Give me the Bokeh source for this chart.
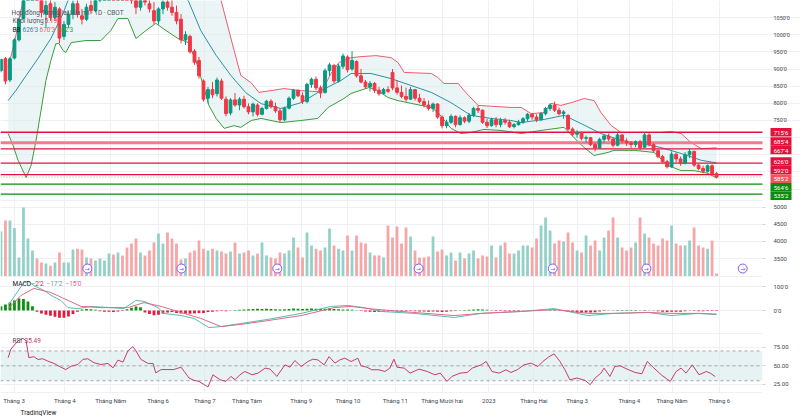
from bokeh.plotting import figure
from bokeh.models import ColumnDataSource, FixedTicker, Range1d, Span, Label, Title, BoxAnnotation
from bokeh.layouts import column
from bokeh.embed import file_html
from bokeh.resources import INLINE
from bokeh.core.properties import value

# one bar = 2 trading days, late Feb 2022 -> early Jun 2023 (prices in cents)
OPEN = [895, 930, 868, 932, 985, 1048, 1125, 1240, 1285, 1190,
        1060, 1090, 1050, 1075, 995, 1030, 1060, 1090, 1055, 1045,
        1085, 1070, 1110, 1140, 1175, 1220, 1170, 1250, 1200, 1160,
        1105, 1080, 1110, 1090, 1070, 1040, 1075, 1095, 1080, 1065,
        1045, 985, 995, 952, 925, 865, 815, 840, 828, 865,
        812, 772, 810, 795, 812, 790, 775, 795, 768, 785,
        806, 790, 778, 752, 786, 815, 838, 822, 805, 855,
        870, 845, 832, 895, 910, 865, 908, 935, 900, 922,
        880, 862, 848, 858, 838, 828, 840, 890, 845, 832,
        820, 812, 840, 815, 805, 795, 785, 798, 760, 735,
        745, 762, 738, 758, 748, 765, 785, 780, 745, 735,
        752, 738, 750, 745, 732, 738, 745, 755, 768, 760,
        752, 770, 785, 795, 780, 770, 765, 725, 710, 715,
        698, 700, 680, 670, 695, 705, 696, 678, 708, 690,
        685, 680, 688, 672, 708, 680, 662, 645, 630, 615,
        652, 638, 625, 650, 660, 620, 610, 602, 618, 595]
HIGH = [930, 935, 935, 990, 1050, 1130, 1250, 1425, 1330, 1200,
        1100, 1110, 1095, 1080, 1040, 1070, 1100, 1110, 1075, 1090,
        1110, 1120, 1150, 1190, 1230, 1260, 1285, 1270, 1215, 1180,
        1120, 1120, 1140, 1110, 1095, 1080, 1110, 1120, 1105, 1085,
        1060, 1010, 1000, 958, 935, 870, 848, 862, 875, 872,
        820, 815, 830, 818, 822, 800, 802, 800, 790, 810,
        812, 802, 785, 790, 820, 842, 840, 832, 860, 875,
        878, 852, 902, 918, 915, 915, 945, 940, 952, 925,
        900, 868, 865, 862, 848, 845, 850, 900, 868, 852,
        846, 848, 842, 828, 815, 808, 802, 800, 765, 752,
        768, 765, 765, 762, 772, 790, 794, 782, 755, 758,
        760, 758, 757, 752, 742, 752, 760, 772, 772, 768,
        775, 790, 800, 805, 788, 780, 768, 730, 722, 718,
        706, 702, 686, 700, 708, 712, 700, 715, 710, 698,
        690, 692, 694, 715, 712, 685, 665, 650, 635, 660,
        656, 645, 658, 668, 662, 625, 618, 622, 622, 600]
LOW = [890, 855, 862, 928, 980, 1045, 1120, 1230, 1180, 1050,
       1020, 1040, 1040, 975, 985, 1020, 1045, 1050, 1030, 1040,
       1060, 1065, 1095, 1120, 1160, 1150, 1165, 1180, 1140, 1090,
       1060, 1070, 1085, 1065, 1030, 1030, 1060, 1070, 1055, 1030,
       975, 970, 945, 912, 872, 805, 800, 815, 820, 810,
       762, 765, 790, 780, 785, 768, 762, 762, 765, 782,
       785, 772, 744, 748, 782, 810, 818, 798, 800, 845,
       838, 815, 828, 880, 858, 860, 900, 890, 895, 875,
       858, 842, 835, 830, 822, 825, 830, 838, 825, 815,
       805, 810, 808, 800, 788, 779, 775, 755, 727, 727,
       740, 730, 735, 742, 742, 760, 772, 740, 728, 732,
       730, 730, 738, 728, 727, 735, 740, 748, 752, 745,
       750, 765, 778, 775, 765, 755, 720, 705, 700, 692,
       685, 675, 660, 668, 685, 690, 672, 675, 683, 676,
       670, 672, 663, 670, 675, 658, 640, 625, 610, 612,
       628, 618, 622, 640, 615, 605, 596, 598, 590, 581]
CLOSE = [928, 865, 930, 985, 1045, 1120, 1230, 1290, 1200, 1065,
         1085, 1050, 1080, 990, 1030, 1060, 1090, 1060, 1045, 1080,
         1070, 1110, 1140, 1175, 1220, 1170, 1250, 1200, 1160, 1110,
         1080, 1110, 1095, 1075, 1040, 1075, 1095, 1080, 1065, 1040,
         985, 1000, 950, 920, 880, 812, 840, 825, 868, 815,
         770, 810, 795, 812, 790, 775, 798, 768, 785, 806,
         790, 778, 752, 786, 815, 838, 822, 805, 855, 870,
         845, 830, 895, 912, 865, 908, 938, 898, 925, 880,
         862, 848, 858, 838, 828, 840, 835, 845, 832, 820,
         812, 840, 815, 805, 795, 785, 798, 760, 735, 745,
         762, 738, 758, 748, 765, 785, 780, 745, 735, 752,
         738, 750, 745, 732, 738, 745, 755, 768, 760, 752,
         770, 785, 795, 780, 770, 775, 725, 710, 715, 698,
         700, 680, 670, 695, 705, 696, 678, 708, 690, 685,
         680, 688, 670, 708, 680, 662, 645, 630, 615, 652,
         638, 625, 650, 660, 620, 610, 602, 618, 595, 585.25]
VOLUME = [4300, 4620, 4620, 4400, 3530, 5000, 4090, 3735, 3500, 3380,
          3350, 3290, 3380, 3680, 3380, 3380, 3765, 3790, 3765, 3530,
          3500, 3440, 3500, 3440, 3650, 3620, 3680, 3590, 3820, 3940,
          4090, 3680, 3590, 3735, 3970, 4235, 3940, 4265, 4090, 3940,
          3470, 3500, 3680, 3735, 4030, 3790, 3735, 3790, 3735, 3705,
          3650, 3705, 3970, 3650, 3680, 3735, 3590, 3650, 3970, 3590,
          3530, 3500, 3680, 3650, 3735, 4120, 3820, 3530, 4265, 3880,
          3790, 3735, 3820, 4380, 3880, 3790, 3735, 4175, 3735, 4175,
          3970, 3940, 3680, 3590, 3590, 3530, 4470, 4120, 4440, 3940,
          4410, 4150, 3735, 3530, 3530, 3560, 4150, 3705, 3765, 3590,
          3680, 3440, 3680, 3500, 3650, 3735, 3500, 3590, 3560, 3880,
          3530, 3880, 3970, 3650, 3650, 3735, 3880, 3880, 3820, 4090,
          4470, 4705, 4325, 3940, 4030, 4000, 4265, 3970, 3735, 3680,
          4175, 3880, 4030, 3735, 4120, 4325, 4705, 4120, 3820, 3735,
          3820, 3970, 4705, 4235, 4120, 3940, 3880, 4090, 4030, 4470,
          3940, 3880, 3880, 4030, 4410, 3880, 3820, 3790, 4030, 3060]
MACD_HIST = [18, 25, 33, 42, 50, 48, 38, 18, -5, -12,
             -18, -22, -26, -30, -30, -25, -15, -5, 4, 6,
             5, 3, -3, -5, -5, -6, -4, -2, 5, 12,
             17, 14, -8, -15, -20, -18, -12, -8, -6, -10,
             -12, -14, -14, -12, -10, -10, -6, -5, -3, -2,
             -3, -1, 2, 3, 4, 5, 6, 7, 6, 7,
             6, 5, 4, 5, 6, 8, 7, 6, 7, 8,
             7, 6, 7, 8, 6, 5, 4, 4, 3, 1,
             -2, -4, -5, -6, -6, -5, -4, -3, -4, -4,
             -3, -2, -3, -4, -4, -5, -4, -5, -6, -5,
             -3, -2, 1, 2, 3, 4, 5, 4, 3, -1,
             -2, -2, -3, -3, -2, -2, -1, -1, -1, -1,
             -1, 1, 2, 2, 1, 0.5, -4, -6, -8, -9,
             -8, -8, -7, -4, -2, 1, 1, 2, 2, 2,
             2, 2, 1, 2, 1, -1, -3, -5, -6, -5,
             -5, -5, -3, -1, -2, -3, -3, -2, -2, -2.2]

# indicator lines (x in bar units)
MACD_POS = [1.6, 5.1, 6.2, 7.3, 9.6, 11.1, 13.3, 14.9, 17.1, 20, 24.4, 27.3, 30, 31.8, 34.9,
            36.2, 40, 42.9, 46.2, 48.9, 53.3, 59.3, 66.7, 73.3, 77.1, 80.7, 84.4, 91.8, 100.7,
            106.7, 115.6, 122.9, 126, 130.4, 136.2, 143.8, 148.9, 154.9, 159]
MACD_VAL = [21, 117, 121, 104, 83, 63, 42, 12, 8, 17, 12, 8, 42, 38, 12,
            -12, -21, -33, -71, -67, -54, -37, -12, 17, 21, 12, -4, -12, -29,
            -12, -4, 8, -4, -21, -12, -8, -21, -12, -17.2]
SIGNAL_POS = [1.6, 4.4, 7.3, 11.1, 14.9, 17.8, 22.2, 28.2, 31.8, 35.6, 40, 44.4, 48.9, 53.3, 59.3,
              66.7, 74, 77.8, 81.6, 88.9, 100.7, 106.7, 115.6, 122.9, 130.4, 136.2, 143.8, 148.9,
              154.9, 159]
SIGNAL_VAL = [8, 62, 92, 75, 42, 17, 12, 12, 33, 17, -8, -33, -67, -58, -42,
              -21, 12, 17, 8, -4, -21, -12, -4, 4, -12, -12, -8, -12, -12, -15]

BB_UPPER_POS = [1.6, 3.1, 4.4, 5.3, 7.8, 13.3, 22.2, 31.1, 40, 45.6, 48.9, 51.8, 53.3, 55.6, 57.3,
                60, 62.9, 66.7, 70.4, 72.2, 73.3, 75.1, 77.8, 80, 83.3, 86.7, 88.2, 89.6, 95.6,
                97.1, 98.4, 101.6, 102.9, 106, 113.3, 115.6, 117.8, 120.7, 122.2, 124.4, 126.7,
                129.6, 131.8, 133.3, 135.6, 137.8, 146.7, 148.9, 151.1, 153.3, 155.6, 159]
BB_UPPER = [904, 983, 1070, 1110, 1250, 1340, 1330, 1290, 1220, 1150, 1100, 954, 881, 860, 832,
            837, 843, 837, 834, 858, 887, 919, 933, 936, 939, 933, 919, 890, 887,
            875, 858, 858, 837, 794, 788, 788, 770, 773, 800, 794, 802,
            814, 808, 773, 735, 715, 715, 718, 712, 686, 668, 670.4]
BB_MID_POS = [1.6, 3.3, 5.6, 8.2, 11.1, 13.8, 14.9, 17.8, 24.4, 31.1, 36.7, 41.6, 44.4, 47.8, 51.1,
              54.4, 57.8, 62.2, 66.7, 71.1, 75.6, 77.8, 82.2, 86.7, 91.1, 95.6, 100, 104.4, 108.9,
              113.3, 115.6, 120.7, 125.1, 128.9, 133.3, 137.8, 142.2, 146.7, 151.1, 155.6, 159]
BB_MID = [808, 837, 881, 930, 989, 1062, 1100, 1125, 1140, 1150, 1130, 1100, 1012, 940, 881,
          831, 799, 785, 802, 837, 867, 887, 887, 872, 852, 832, 802, 765, 756,
          750, 744, 753, 765, 741, 712, 692, 683, 671, 654, 634, 626.4]
BB_LOWER_POS = [1.6, 2.7, 3.8, 5.6, 6.7, 7.8, 8.9, 10, 11.1, 12.2, 12.9, 13.8, 14.4, 15.6, 18.9,
                22.2, 24.4, 26, 28.2, 30, 32.2, 34.4, 36.7, 39.3, 41.6, 43.3, 45.1, 46.2, 47.8,
                49.6, 51.8, 53.3, 55.6, 57.8, 62.2, 66.7, 70.4, 72.7, 76.2, 77.8, 81.8, 83.8, 86,
                88.2, 91.1, 95.6, 97.1, 100, 102.2, 104.4, 107.3, 111.1, 115.6, 120, 125.1, 127.3,
                129.6, 131.8, 134.9, 136.2, 140.7, 145.1, 148.2, 151.1, 154, 157.1, 159]
BB_LOWER = [712, 677, 634, 584, 619, 692, 779, 867, 925, 974, 974, 954, 948, 977, 983,
            983, 1012, 1047, 1047, 989, 1012, 1033, 1012, 989, 977, 925, 846, 794, 756,
            727, 735, 730, 750, 756, 744, 750, 756, 788, 814, 829, 846, 837, 817,
            808, 800, 788, 773, 727, 712, 715, 724, 721, 712, 721, 730, 700,
            671, 648, 657, 663, 663, 657, 619, 604, 604, 596, 582.4]

RSI_POS = [1.6, 2.2, 3.8, 4.9, 5.6, 6.2, 7.3, 8.2, 9.3, 10.4,
           11.8, 12.9, 14.4, 15.6, 17.1, 18.2, 19.3, 20.7, 22.2, 23.8,
           24.9, 26, 27.1, 28.2, 29.3, 30, 31.1, 32.7, 33.8, 34.4,
           35.6, 37.1, 38.4, 40, 40.7, 41.8, 42.9, 44, 46, 47.1,
           48.7, 50, 51.1, 52, 53.1, 54.2, 55.8, 57.1, 58.7, 59.8,
           61.3, 63.1, 64.2, 65.3, 66.7, 68.2, 69.3, 70.4, 71.8, 72.9,
           74.2, 75.3, 76.4, 77.8, 79.3, 80, 81.3, 82.4, 84, 85.3,
           86.4, 87.3, 88, 89.6, 90.9, 92.9, 94.7, 96.4, 97.6, 99.1,
           100.2, 102, 103.6, 104.7, 106.7, 107.8, 109.1, 110.7, 112.2, 113.3,
           114.7, 116.2, 117.8, 119.3, 120.4, 121.8, 122.9, 124.2, 125.3, 126.4,
           128, 129.8, 130.9, 132, 133.3, 134, 135.3, 136.4, 137.6, 139.1,
           140.9, 142.4, 143.6, 145.1, 146.7, 148.7, 150, 151.1, 152.2, 153.6,
           155.1, 156.7, 157.6, 158.7]
RSI_VAL = [60.9, 72.3, 83.6, 86.8, 83.6, 60.9, 62.3, 58.6, 59.5, 56.4,
           53.2, 49.5, 45, 49.5, 51.8, 58.6, 59.5, 54.1, 51.8, 53.2,
           47.3, 57.7, 55, 70, 75.9, 70, 58.6, 53.2, 53.2, 40.5,
           45, 45, 45, 48.2, 42.7, 33.6, 30.5, 29.1, 21.6, 38,
           31.3, 29.1, 35.8, 31.3, 38, 42.4, 38, 40.2, 46.9, 45.6,
           35.8, 51.3, 48.2, 57.1, 49.1, 55.8, 58.9, 58, 51.3, 62.4,
           53.6, 58, 60.2, 55.8, 60.2, 50, 48.2, 44.7, 44.7, 42.4,
           46.9, 58.9, 48.2, 46.9, 40.2, 45.6, 42.4, 38, 40.2, 29.1,
           35.8, 40.2, 41.1, 46.9, 51.3, 55.8, 42.4, 40.2, 44.7, 41.1,
           44.7, 51.3, 53.6, 49.1, 55.8, 62.4, 66, 55.8, 44.7, 31.3,
           33.6, 30.4, 24.7, 33.6, 40.2, 46.9, 35.8, 49.1, 50, 45.6,
           41.1, 39.3, 55.8, 46.9, 38, 29.1, 42.4, 46.9, 40.2, 51.3,
           38, 42.4, 40.2, 35.49]

RES_LEVELS = [715.75, 685.5, 667.5, 626.0, 592.0]
SUP_LEVELS = [564.75, 535.25]
MAJOR_LEVEL = 685.5
EVENTS = [19.2, 40.1, 61.4, 92.8, 122.6, 143.4, 164.8]

MONTH_POS = [2.9, 14.2, 24.4, 34.9, 45.3, 54.7, 66.7, 77.1, 87.6, 98, 108.4, 118.4, 128,
             139.6, 149.1, 159.6]
MONTH_LABELS = ["Tháng 3", "Tháng 4", "Tháng Năm", "Tháng 6", "Tháng 7", "Tháng Tám",
                "Tháng 9", "Tháng 10", "Tháng 11", "Tháng Mười hai", "2023", "Tháng Hai",
                "Tháng 3", "Tháng 4", "Tháng Năm", "Tháng 6"]
PRICE_TICKS = list(range(550, 1051, 50))
VOL_TICKS = [3500, 4000, 4500, 5000]
MACD_TICKS = [0, 100]
RSI_TICKS = [25, 50, 75]

TITLE = "Hợp đồng Tương lai Lúa mì · 1D · CBOT"
VOL_LAST = "5.19K"

FONT = "Roboto"
UP, DOWN = "#089981", "#f23645"
LEVEL_RED, LEVEL_GREEN = "#e3123c", "#0b8c0b"
SEP = "#e0e3eb"
FW = 762            # chart area width (px)
STRIP = 38          # price-scale strip that the main pane keeps inside its frame
XR = Range1d(-0.1, 169.2)
UPP = (XR.end - XR.start) / FW
XM = Range1d(XR.start, XR.start + (FW + STRIP) * UPP)


def eighths(v):
    sign = "−" if v < 0 else ""
    v = abs(v)
    w = int(v)
    e = int(round((v - w) * 8))
    if e == 8:
        w, e = w + 1, 0
    return f"{sign}{w}'{e}"


def pane(h, lo, hi, ticks, labels, xaxis=False, fw=FW, xr=XR, border_right=40):
    p = figure(frame_width=fw, frame_height=h, x_range=xr, y_range=Range1d(lo, hi),
               output_backend="svg", toolbar_location=None, tools="",
               y_axis_location="right", x_axis_location="below" if xaxis else None,
               min_border=0, min_border_right=border_right)
    p.outline_line_color = None
    ax = p.yaxis[0]
    ax.ticker = FixedTicker(ticks=ticks)
    ax.major_label_overrides = dict(zip(ticks, labels))
    ax.axis_line_color = None
    ax.major_tick_in = 0
    ax.major_tick_out = 3
    ax.major_tick_line_color = "#d1d4dc"
    ax.minor_tick_line_color = None
    ax.major_label_text_font = FONT
    ax.major_label_text_font_size = "6px"
    ax.major_label_text_color = "#42454f"
    ax.major_label_standoff = 8
    p.xgrid.ticker = FixedTicker(ticks=MONTH_POS)
    p.grid.grid_line_color = "#eef0f5"
    return p


def legend(p, x, y, text, color, size="6.5px"):
    p.add_layout(Label(x=x, y=y, x_units="screen", y_units="screen", text=text,
                       text_color=color, text_font=FONT, text_font_size=size,
                       text_baseline="middle"))


def top_rule(p):
    p.add_layout(Span(location=p.y_range.end, dimension="width", line_color=SEP, line_width=1))


up = [c >= o for o, c in zip(OPEN, CLOSE)]
src = ColumnDataSource(dict(
    x=list(range(len(CLOSE))), h=HIGH, l=LOW,
    top=[max(o, c) for o, c in zip(OPEN, CLOSE)],
    bot=[min(o, c) for o, c in zip(OPEN, CLOSE)],
    col=[UP if u else DOWN for u in up],
    vol=VOLUME, vcol=["#93d1c8" if u else "#f7a6a8" for u in up],
    hist=MACD_HIST, hcol=["#0f8f0f" if v >= 0 else "#e8173d" for v in MACD_HIST],
))

# ---- price pane (its frame also covers the price-scale strip) ----
main_h = 200
main = pane(main_h, 516.9, 1099.6, PRICE_TICKS,
            [f"{t}'0" if t >= 750 else "" for t in PRICE_TICKS],
            fw=FW + STRIP, xr=XM, border_right=2)
main.yaxis.major_tick_out = 0
main.yaxis.major_label_standoff = -(STRIP - 11)
main.yaxis.major_label_text_font_size = "5.5px"

main.patch(BB_UPPER_POS + BB_LOWER_POS[::-1], BB_UPPER + BB_LOWER[::-1],
           fill_color="#dcecec", fill_alpha=0.55, line_color=None)
main.line(BB_UPPER_POS, BB_UPPER, line_color="#ef5b6e", line_width=1)
main.line(BB_MID_POS, BB_MID, line_color="#2a8fa6", line_width=1)
main.line(BB_LOWER_POS, BB_LOWER, line_color="#3c9a3c", line_width=1)

edge = XR.end
lv_all = RES_LEVELS + SUP_LEVELS
main.segment(x0=[XR.start] * len(lv_all), x1=[edge] * len(lv_all), y0=lv_all, y1=lv_all,
             line_color=[("#ee7d90" if lv == MAJOR_LEVEL else LEVEL_RED) for lv in RES_LEVELS]
             + [LEVEL_GREEN] * len(SUP_LEVELS),
             line_width=[(3 if lv == MAJOR_LEVEL else 1.3) for lv in RES_LEVELS]
             + [1.3] * len(SUP_LEVELS))
main.segment(x0=[XR.start], x1=[edge], y0=[CLOSE[-1]], y1=[CLOSE[-1]],
             line_color="#f08f99", line_width=1, line_dash="1 2")

main.segment(x0="x", y0="h", x1="x", y1="l", color="col", line_width=1, source=src)
main.vbar(x="x", top="top", bottom="bot", width=0.62, fill_color="col", line_color="col", source=src)

# price-scale tags, pushed apart so they do not overlap
tags = [(lv, LEVEL_RED) for lv in RES_LEVELS] + [(CLOSE[-1], "#f0545f")] + \
       [(lv, LEVEL_GREEN) for lv in SUP_LEVELS]
tags.sort(key=lambda t: -t[0])
pos = [t[0] for t in tags]
gap = 25.0
for _ in range(400):
    for k in range(len(pos) - 1):
        d = pos[k] - pos[k + 1]
        if d < gap:
            m = (gap - d) / 2
            pos[k] += m
            pos[k + 1] -= m
tag_x = [edge + 18.5 * UPP] * len(tags)
main.rect(x=tag_x, y=pos, width=21, height=8.6, width_units="screen", height_units="screen",
          fill_color=[t[1] for t in tags], line_color=None)
main.text(x=tag_x, y=pos, text=[eighths(t[0]) for t in tags], text_color="white",
          text_font=value(FONT), text_font_size="6px", text_align="center",
          text_baseline="middle")

legend(main, 11, main_h - 12, TITLE, "#50535e")
legend(main, 12, main_h - 20, "Khối lượng", "#50535e")
legend(main, 44, main_h - 20, VOL_LAST, "#f23645")
legend(main, 12, main_h - 29, "BB", "#131722")
legend(main, 22, main_h - 29, eighths(BB_MID[-1]), "#2a8fa6")
legend(main, 39, main_h - 29, eighths(BB_UPPER[-1]), "#ef5b6e")
legend(main, 57, main_h - 29, eighths(BB_LOWER[-1]), "#3c9a3c")

# ---- volume pane ----
vol_lo, vol_hi = 2971, 5205
vol = pane(76, vol_lo, vol_hi, VOL_TICKS, [str(t) for t in VOL_TICKS])
top_rule(vol)
vol.vbar(x="x", top="vol", bottom=0, width=0.62, fill_color="vcol", line_color=None, source=src)
ev_y = [vol_lo + 0.105 * (vol_hi - vol_lo)] * len(EVENTS)
vol.scatter(EVENTS, ev_y, marker="circle", size=9, fill_color="white",
            line_color="#7b5cf0", line_width=1)
vol.text(EVENTS, ev_y, text=["→"] * len(EVENTS), text_font=value("DejaVu Sans"),
         text_font_size="6px", text_color="#7b5cf0", text_align="center", text_baseline="middle")

# ---- MACD pane ----
macd_h = 57
macd = pane(macd_h, -95.8, 141.7, MACD_TICKS, ["0'0", "100'0"])
top_rule(macd)
macd.vbar(x="x", top="hist", bottom=0, width=0.62, fill_color="hcol", line_color=None, source=src)
macd.line(MACD_POS, MACD_VAL, line_color="#55bdb0", line_width=1)
macd.line(SIGNAL_POS, SIGNAL_VAL, line_color="#e0698a", line_width=1)
legend(macd, 12, macd_h - 7, "MACD", "#131722")
legend(macd, 31, macd_h - 7, eighths(MACD_HIST[-1]), "#e8173d")
legend(macd, 46, macd_h - 7, eighths(MACD_VAL[-1]), "#3fb0a3")
legend(macd, 65, macd_h - 7, eighths(SIGNAL_VAL[-1]), "#e0698a")

# ---- RSI pane ----
rsi_h = 59
rsi = pane(rsi_h, 14.2, 93.4, RSI_TICKS, [f"{t:.2f}" for t in RSI_TICKS], xaxis=True)
top_rule(rsi)
rsi.add_layout(Span(location=rsi.y_range.start, dimension="width", line_color=SEP, line_width=1))
rsi.add_layout(BoxAnnotation(bottom=30, top=70, fill_color="#d7e9ea", fill_alpha=0.6,
                             line_color=None, level="underlay"))
for lv in (70, 50, 30):
    rsi.add_layout(Span(location=lv, dimension="width", line_color="#a3a6af",
                        line_width=1, line_dash="3 3", level="underlay"))
rsi.line(RSI_POS, RSI_VAL, line_color="#cc3a68", line_width=1)
legend(rsi, 12, rsi_h - 7, "RSI", "#50535e")
legend(rsi, 24, rsi_h - 7, f"{RSI_VAL[-1]:.2f}", "#cc3a68")

xa = rsi.xaxis[0]
xa.ticker = FixedTicker(ticks=MONTH_POS)
xa.major_label_overrides = dict(zip(MONTH_POS, MONTH_LABELS))
xa.axis_line_color = None
xa.major_tick_line_color = None
xa.major_tick_out = 0
xa.major_tick_in = 0
xa.minor_tick_line_color = None
xa.minor_tick_out = 0
xa.major_label_text_font = FONT
xa.major_label_text_font_size = "6px"
xa.major_label_text_color = "#42454f"
xa.major_label_standoff = 4
rsi.add_layout(Title(text="TradingView", align="left", offset=20, standoff=0,
                     text_font=FONT, text_font_size="6.5px", text_color="#131722",
                     text_font_style="normal"), "below")

layout = column(main, vol, macd, rsi, spacing=0)
open("out.html", "w", encoding="utf-8").write(file_html(layout, INLINE, "chart"))
